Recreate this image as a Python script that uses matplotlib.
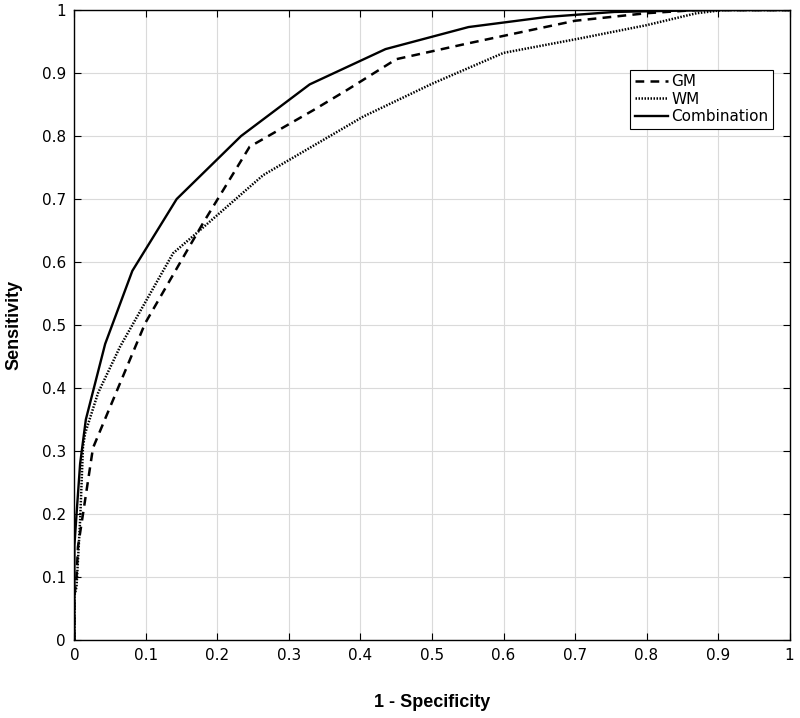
import matplotlib
matplotlib.use("Agg")
import matplotlib.pyplot as plt

# ROC vertices (1 - specificity, sensitivity)
gm_fpr = [0, 0, 0.003, 0.005, 0.012, 0.026, 0.047, 0.099, 0.162, 0.18, 0.245,
          0.334, 0.381, 0.45, 0.55, 0.65, 0.70, 0.80, 0.87, 1]
gm_tpr = [0, 0.07, 0.10, 0.148, 0.20, 0.305, 0.362, 0.503, 0.627, 0.662, 0.783,
          0.841, 0.873, 0.922, 0.947, 0.971, 0.983, 0.995, 1.0, 1]

wm_fpr = [0, 0, 0.003, 0.008, 0.012, 0.015, 0.033, 0.064, 0.138, 0.176, 0.264,
          0.404, 0.50, 0.60, 0.707, 0.80, 0.87, 0.907, 1]
wm_tpr = [0, 0.07, 0.085, 0.19, 0.307, 0.328, 0.392, 0.466, 0.614, 0.651, 0.738,
          0.831, 0.883, 0.932, 0.955, 0.976, 0.995, 1.0, 1]

comb_fpr = [0, 0, 0.003, 0.008, 0.016, 0.043, 0.081, 0.143, 0.233, 0.329, 0.435,
            0.551, 0.66, 0.755, 0.89, 1]
comb_tpr = [0, 0.15, 0.20, 0.28, 0.35, 0.47, 0.586, 0.70, 0.80, 0.882, 0.938,
            0.973, 0.989, 0.997, 1.0, 1]

ticks = [i / 10 for i in range(11)]
tick_labels = ['0'] + ['%.1f' % t for t in ticks[1:-1]] + ['1']

fig = plt.figure(figsize=(8, 7.18), dpi=100)
ax = fig.add_axes([0.093, 0.1086, 0.894, 0.8774])

ax.plot(gm_fpr, gm_tpr, color='black', linestyle=(0, (3.5, 2.5)), linewidth=1.8, label='GM')
ax.plot(wm_fpr, wm_tpr, color='black', linestyle=(0, (0.6, 0.6)), linewidth=1.8, label='WM')
ax.plot(comb_fpr, comb_tpr, color='black', linestyle='-', linewidth=1.7, label='Combination')

ax.set_xlim(0, 1)
ax.set_ylim(0, 1)
ax.set_xticks(ticks)
ax.set_yticks(ticks)
ax.set_xticklabels(tick_labels)
ax.set_yticklabels(tick_labels)
ax.tick_params(direction='in', top=True, right=True, length=5, labelsize=11, pad=6)
ax.grid(True, color='#dadada', linewidth=0.8)
ax.set_axisbelow(True)
for s in ax.spines.values():
    s.set_linewidth(1.0)

label_font = dict(family=['Liberation Sans Narrow', 'Liberation Sans', 'DejaVu Sans'],
                  fontweight='bold', fontsize=13)
ax.set_xlabel('1 - Specificity', labelpad=22, **label_font)
ax.set_ylabel('Sensitivity', labelpad=14, **label_font)

leg = ax.legend(loc='upper right', bbox_to_anchor=(0.977, 0.905), fontsize=11,
                fancybox=False, edgecolor='black', framealpha=1, handlelength=2.2,
                handletextpad=0.2, borderpad=0.3, labelspacing=0.15, borderaxespad=0)
leg.get_frame().set_linewidth(0.8)

plt.savefig('out.png')
